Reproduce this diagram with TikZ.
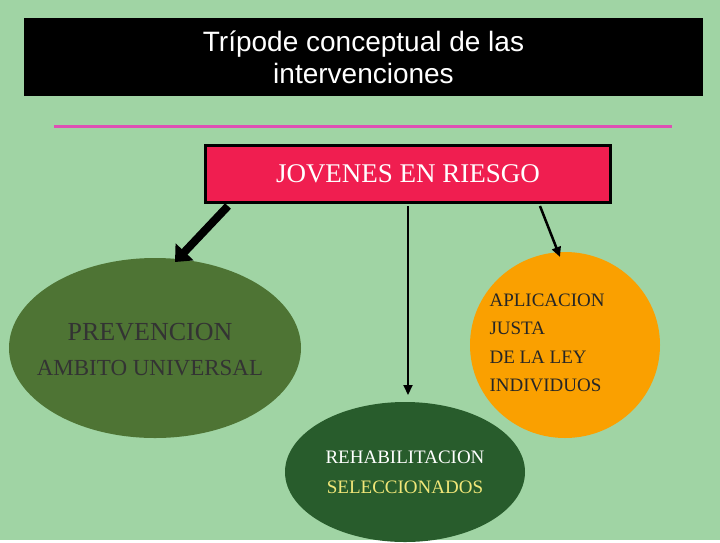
\documentclass[tikz,border=0pt]{standalone}
\usepackage{fontspec}
\setmainfont{Liberation Serif}
\newfontfamily\hsans{Liberation Sans}
\usetikzlibrary{arrows.meta,shapes.geometric}
\definecolor{bg}{RGB}{160,212,164}
\definecolor{mag}{RGB}{222,80,180}
\definecolor{rbox}{RGB}{240,30,80}
\definecolor{olive}{RGB}{78,116,52}
\definecolor{org}{RGB}{250,160,0}
\definecolor{dgreen}{RGB}{40,92,44}
\definecolor{yel}{RGB}{240,230,120}
\tikzset{conn/.style={draw=black,-{Triangle[length=10pt,width=9pt]}},
 lbl/.style={font=\fontsize{19}{23}\selectfont, align=left}}
\begin{document}
\begin{tikzpicture}[x=1pt,y=-1pt]
\fill[bg] (0,0) rectangle (720,540);
\node[fill=black, minimum width=679pt, minimum height=78pt, inner sep=0, text=white, align=center,
 font=\hsans\fontsize{28}{32}\selectfont] (title) at (363.5,57) {Trípode conceptual de las\\intervenciones};
\coordinate (m1) at (54,126); \coordinate (m2) at (672,126);
\draw[mag, line width=3pt] (m1) -- (m2);
\node[fill=rbox, draw=black, line width=3pt, minimum width=405pt, minimum height=57pt, inner sep=0,
 text=white, font=\fontsize{27}{30}\selectfont] (jr) at (408,174) {JOVENES EN RIESGO};
\node[ellipse, fill=olive, minimum width=292pt, minimum height=180pt, inner sep=0] (prev) at (155,348) {};
\node[ellipse, fill=org, minimum width=190pt, minimum height=186pt, inner sep=0] (apl) at (565,345) {};
\node[ellipse, fill=dgreen, minimum width=240pt, minimum height=140pt, inner sep=0] (reh) at (405,472) {};
\node[font=\fontsize{26}{30}\selectfont, text=black!80] (pt) at (150,332) {PREVENCION};
\node[font=\fontsize{23}{27}\selectfont, text=black!80] (pt2) at (150,368) {AMBITO UNIVERSAL};
\node[lbl, anchor=west, text=black!85, font=\fontsize{19}{28.5}\selectfont] (at) at (486,343) {APLICACION\\JUSTA\\DE LA LEY\\INDIVIDUOS};
\node[font=\fontsize{19}{23}\selectfont, text=white] (rt) at (405,457) {REHABILITACION};
\node[font=\fontsize{19}{23}\selectfont, text=yel] (rt2) at (405,487) {SELECCIONADOS};
\coordinate (a1s) at (228,206); \coordinate (a1e) at (175,262);
\draw[line width=8pt, -{Triangle[length=14pt,width=24pt]}] (a1s) -- (a1e);
\coordinate (a2s) at (408,206); \coordinate (a2e) at (408,395);
\draw[conn, line width=2pt] (a2s) -- (a2e);
\coordinate (a3s) at (540,206); \coordinate (a3e) at (560,257);
\draw[conn, line width=2.5pt] (a3s) -- (a3e);
\end{tikzpicture}
\end{document}
